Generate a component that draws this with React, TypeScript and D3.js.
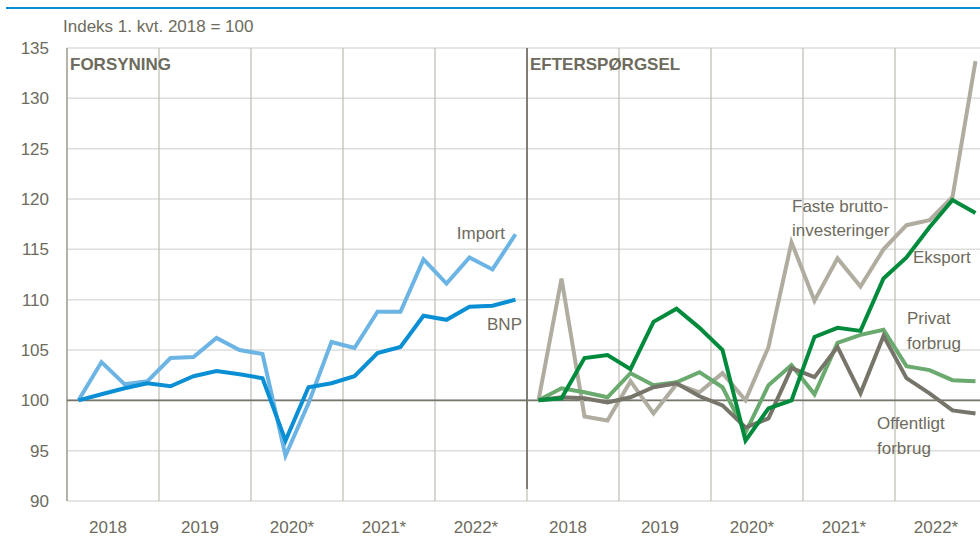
import * as d3 from 'd3';

const years = ['2018', '2019', '2020*', '2021*', '2022*'];
const yTicks = [90, 95, 100, 105, 110, 115, 120, 125, 130, 135];

// Forsyning (supply), quarterly 2018Q1 - 2022Q4
const importValues = [100, 103.8, 101.6, 101.9, 104.2, 104.3, 106.2, 105.0, 104.6, 94.5, 99.7, 105.8, 105.2, 108.8, 108.8, 114.0, 111.6, 114.2, 113.0, 116.5];
const bnpValues = [100, 100.6, 101.2, 101.7, 101.4, 102.4, 102.9, 102.6, 102.2, 96.0, 101.3, 101.7, 102.4, 104.7, 105.3, 108.4, 108.0, 109.3, 109.4, 110.0];

// Efterspørgsel (demand)
const investValues = [100, 112.1, 98.4, 98.0, 101.9, 98.7, 101.6, 100.8, 102.7, 100.0, 105.3, 115.7, 109.9, 114.1, 111.3, 115.0, 117.4, 117.9, 120.2, 133.7];
const eksportValues = [100, 100.2, 104.2, 104.5, 103.1, 107.8, 109.1, 107.2, 105.0, 96.0, 99.2, 100.0, 106.3, 107.2, 106.9, 112.1, 114.2, 117.2, 119.9, 118.6];
const privatValues = [100, 101.2, 100.8, 100.3, 102.7, 101.5, 101.8, 102.8, 101.3, 96.8, 101.5, 103.5, 100.6, 105.7, 106.5, 107.0, 103.4, 103.0, 102.0, 101.9];
const offentligValues = [100, 100.3, 100.2, 99.8, 100.3, 101.3, 101.7, 100.4, 99.5, 97.3, 98.2, 103.2, 102.3, 105.3, 100.7, 106.4, 102.2, 100.7, 99.0, 98.7];

const TEXT = '#6d6b5d';
const FONT = '"Liberation Sans", Arial, sans-serif';

export default function App() {
  const width = 980;
  const height = 537;
  const top = 48;
  const bottom = 501;
  const leftX0 = 67;
  const mid = 527;
  const rightX1 = 987;

  const y = d3.scaleLinear().domain([90, 135]).range([bottom, top]);
  const xL = d3.scaleLinear().domain([0, 20]).range([leftX0, mid]);
  const xR = d3.scaleLinear().domain([0, 20]).range([mid, rightX1]);

  const mkLine = (x: d3.ScaleLinear<number, number>) =>
    d3.line<number>().x((_, i) => x(i + 0.5)).y(d => y(d));

  const lineL = mkLine(xL);
  const lineR = mkLine(xR);

  const series = [
    { values: importValues, color: '#6cb4e4', line: lineL },
    { values: bnpValues, color: '#0a8fd4', line: lineL },
    { values: investValues, color: '#b0ada0', line: lineR },
    { values: privatValues, color: '#6aaa6e', line: lineR },
    { values: offentligValues, color: '#77746a', line: lineR },
    { values: eksportValues, color: '#008a3c', line: lineR },
  ];

  const yearBounds = d3.range(0, 21, 4);

  return (
    <svg width={width} height={height} style={{ position: 'absolute', left: 0, top: 0, background: '#fff' }} fontFamily={FONT}>
      <line x1={6} x2={980} y1={8} y2={8} stroke="#0a8fd4" strokeWidth={2} />
      <text x={63} y={32} fontSize={17} fill={TEXT}>Indeks 1. kvt. 2018 = 100</text>

      {/* horizontal grid */}
      {yTicks.map(t => (
        <line key={'h' + t} x1={leftX0} x2={width} y1={y(t)} y2={y(t)} stroke="#dddddb" strokeWidth={1.5} />
      ))}
      {/* vertical grid */}
      {yearBounds.map(b => (
        <line key={'vl' + b} x1={xL(b)} x2={xL(b)} y1={top} y2={bottom} stroke="#bdbbb0" strokeWidth={1.2} />
      ))}
      {yearBounds.slice(1).map(b => (
        <line key={'vr' + b} x1={xR(b)} x2={xR(b)} y1={top} y2={bottom} stroke="#bdbbb0" strokeWidth={1.2} />
      ))}
      <line x1={leftX0} x2={leftX0} y1={top} y2={bottom} stroke="#9e9b8c" strokeWidth={1.2} />
      <line x1={mid} x2={mid} y1={top} y2={489} stroke="#77746a" strokeWidth={1.8} />
      <line x1={leftX0} x2={width} y1={y(100)} y2={y(100)} stroke="#77746a" strokeWidth={1.8} />

      {/* y tick labels */}
      {yTicks.map(t => (
        <text key={'t' + t} x={49} y={y(t)} dy="0.36em" textAnchor="end" fontSize={17} fill={TEXT}>{t}</text>
      ))}

      {/* year labels */}
      {years.map((yr, i) => (
        <text key={'yl' + yr} x={xL(i * 4 + 2) - 5} y={533} textAnchor="middle" fontSize={17} fill={TEXT}>{yr}</text>
      ))}
      {years.map((yr, i) => (
        <text key={'yr' + yr} x={xR(i * 4 + 2) - 5} y={533} textAnchor="middle" fontSize={17} fill={TEXT}>{yr}</text>
      ))}

      {/* series */}
      {series.map((s, i) => (
        <path key={'s' + i} d={s.line(s.values) || ''} fill="none" stroke={s.color} strokeWidth={4} strokeLinejoin="miter" />
      ))}

      {/* panel titles */}
      <text x={70} y={70} fontSize={17} fontWeight="bold" fill={TEXT}>FORSYNING</text>
      <text x={530} y={70} fontSize={17} fontWeight="bold" fill={TEXT}>EFTERSPØRGSEL</text>

      {/* series labels */}
      <text x={505} y={239} textAnchor="end" fontSize={17} fill={TEXT}>Import</text>
      <text x={522} y={330} textAnchor="end" fontSize={17} fill={TEXT}>BNP</text>
      <text x={792} y={212} fontSize={17} fill={TEXT}>Faste brutto-</text>
      <text x={792} y={236} fontSize={17} fill={TEXT}>investeringer</text>
      <text x={913} y={263} fontSize={17} fill={TEXT}>Eksport</text>
      <text x={907} y={324} fontSize={17} fill={TEXT}>Privat</text>
      <text x={907} y={349} fontSize={17} fill={TEXT}>forbrug</text>
      <text x={877} y={429} fontSize={17} fill={TEXT}>Offentligt</text>
      <text x={877} y={454} fontSize={17} fill={TEXT}>forbrug</text>
    </svg>
  );
}
